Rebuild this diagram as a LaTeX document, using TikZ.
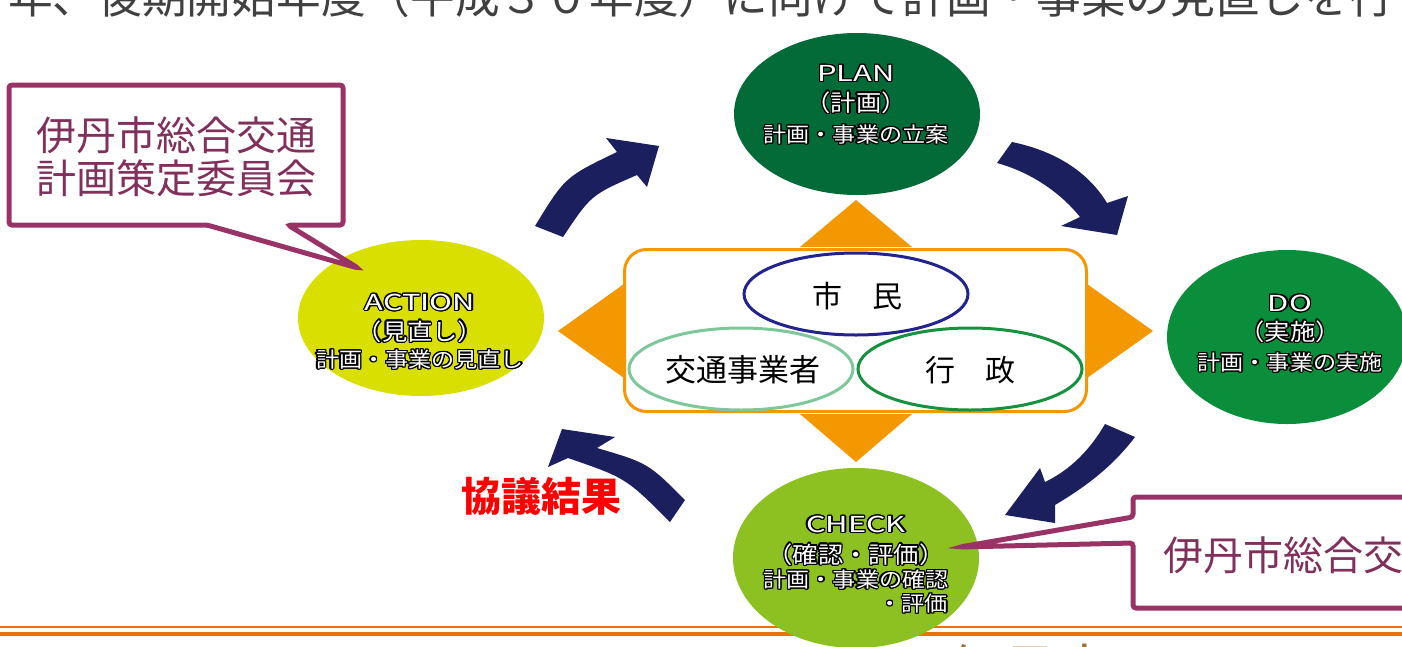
\documentclass[tikz,border=0pt]{standalone}
\usepackage{fontspec}
\setmainfont{Noto Sans CJK JP}
\usepackage{contour}
\contourlength{1.3pt}
\usetikzlibrary{shapes.geometric}
\definecolor{plangreen}{HTML}{036B38}
\definecolor{dogreen}{HTML}{0A8E3C}
\definecolor{actyellow}{HTML}{D9DF00}
\definecolor{chkgreen}{HTML}{8DC021}
\definecolor{navyarrow}{HTML}{1B1F5E}
\definecolor{triorange}{HTML}{F39800}
\definecolor{callborder}{HTML}{993366}
\definecolor{calltext}{HTML}{80305A}
\definecolor{lineorange}{HTML}{E8720C}
\definecolor{citizenblue}{HTML}{23238E}
\definecolor{operatorgreen}{HTML}{7EC79B}
\definecolor{govgreen}{HTML}{16913F}
\definecolor{toptext}{HTML}{404040}
\definecolor{bottext}{HTML}{A0703C}
\newcommand{\pdcaTitle}[1]{\contour{black}{\scalebox{1.4}[1]{#1}}}
\newcommand{\pdcaSub}[1]{\contour{black}{\scalebox{1.1}[1]{#1}}}
\begin{document}
\begin{tikzpicture}[x=1pt,y=-1pt,
  phase/.style={ellipse, inner sep=0pt, minimum width=246pt, minimum height=160pt},
  ttl/.style={inner sep=0pt, text=white, font=\fontsize{22}{24}\selectfont},
  sub/.style={inner sep=0pt, text=white, font=\fontsize{21}{23}\selectfont},
  paren/.style={inner sep=0pt, text=white, font=\fontsize{23}{25}\selectfont},
  member/.style={ellipse, inner sep=0pt, line width=3pt, minimum width=224pt, minimum height=82pt},
  membertext/.style={inner sep=0pt, text=black, font=\fontsize{30}{32}\selectfont},
  callout/.style={draw=callborder, line width=5pt, fill=white, rounded corners=3pt},
  calltxt/.style={inner sep=0pt, text=calltext, font=\fontsize{40}{44}\selectfont},
  bigarrow/.style={fill=navyarrow},
  tri/.style={fill=triorange}
]
\useasboundingbox (0,0) rectangle (1402,646);
\clip (0,0) rectangle (1402,646);
\fill[white] (0,0) rectangle (1402,646);

% partial text lines at the edges
\node[anchor=base west, inner sep=0pt, text=toptext, font=\fontsize{44.7}{48}\selectfont] (topline) at (8,13) {年、後期開始年度（平成３０年度）に向けて計画・事業の見直しを行};
\node[anchor=base west, inner sep=0pt, text=bottext, font=\fontsize{55}{60}\selectfont] (botline) at (947,690) {伊丹市};

% orange rules at the bottom
\draw[lineorange, line width=1.3pt] (0,627) -- (1402,627);
\draw[lineorange, line width=4pt] (0,634) -- (1402,634);

% cycle arrows
\fill[bigarrow] (535,226) .. controls (565,177) .. (617,152) -- (606,138) -- (659,146) -- (647,187) -- (637,175) .. controls (591,195) .. (563,237) -- cycle;
\fill[bigarrow] (1012,142) .. controls (1060,152) and (1090,175) .. (1107,203) -- (1128,196) -- (1117,235) -- (1061,226) -- (1080,217) .. controls (1060,192) and (1030,172) .. (997,163) -- cycle;
\fill[bigarrow] (1135,437) .. controls (1110,470) and (1080,490) .. (1055,505) -- (1055,523) -- (1005,515) -- (1040,468) -- (1045,482) .. controls (1070,470) and (1090,450) .. (1105,424) -- cycle;
\fill[bigarrow] (685,500) .. controls (648,463) .. (597,448) -- (615,437) -- (562,429) -- (548,467) -- (568,458) .. controls (626,478) .. (670,522) -- cycle;

% orange triangles
\fill[tri] (800,247) -- (856,200) -- (912,247) -- cycle;
\fill[tri] (800,414) -- (856,462) -- (912,414) -- cycle;
\fill[tri] (624,284) -- (558,331) -- (624,378) -- cycle;
\fill[tri] (1087,284) -- (1153,331) -- (1087,378) -- cycle;

% centre box
\node[draw=triorange, line width=3pt, rounded corners=22pt, fill=white, minimum width=462pt, minimum height=162pt, inner sep=0pt] (box) at (855.5,330.5) {};
\node[member, draw=citizenblue] (citizen) at (856,294) {};
\node[member, draw=operatorgreen] (operator) at (741,369) {};
\node[member, draw=govgreen] (gov) at (970,369) {};
\node[membertext] (citizentxt) at (857,296) {市　民};
\node[membertext, font=\fontsize{31}{33}\selectfont] (operatortxt) at (743,370) {交通事業者};
\node[membertext] (govtxt) at (970,370) {行　政};

% PDCA ellipses
\node[phase, fill=plangreen, minimum height=162pt] (plan) at (857,114) {};
\node[phase, fill=dogreen, minimum width=240pt, minimum height=174pt] (do) at (1287,337) {};
\node[phase, fill=actyellow, minimum height=156pt] (action) at (421,318) {};
\node[phase, fill=chkgreen, minimum height=180pt] (check) at (856,558) {};

\node[ttl] (planA) at (856,74) {\pdcaTitle{PLAN}};
\node[paren] (planB) at (856,103) {\pdcaSub{（計画）}};
\node[sub] (planC) at (856,135) {\pdcaSub{計画・事業の立案}};

\node[ttl] (doA) at (1290,304) {\pdcaTitle{DO}};
\node[paren] (doB) at (1290,332) {\pdcaSub{（実施）}};
\node[sub] (doC) at (1290,363) {\pdcaSub{計画・事業の実施}};

\node[ttl] (actA) at (420,303) {\pdcaTitle{ACTION}};
\node[paren] (actB) at (420,332) {\pdcaSub{（見直し）}};
\node[sub] (actC) at (420,360) {\pdcaSub{計画・事業の見直し}};

\node[ttl] (chkA) at (856,525) {\pdcaTitle{CHECK}};
\node[paren] (chkB) at (856,555) {\pdcaSub{（確認・評価）}};
\node[sub] (chkC) at (856,580) {\pdcaSub{計画・事業の確認}};
\node[sub, anchor=east] (chkD) at (948,604) {\pdcaSub{・評価}};

% callouts
\draw[callout] (9,85) -- (343,85) -- (343,225) -- (288,225) -- (358,268) -- (207,225) -- (9,225) -- cycle;
\node[calltxt] (leftA) at (176,135) {伊丹市総合交通};
\node[calltxt] (leftB) at (176,178) {計画策定委員会};

\draw[callout] (1133,517) -- (1133,497) -- (1420,497) -- (1420,608) -- (1133,608) -- (1133,543) -- (960,547) -- cycle;
\node[calltxt, anchor=west] (rightA) at (1163,555) {伊丹市総合交通計画策定委員会};

% result label
\node[inner sep=0pt, text=red, font=\fontsize{40}{44}\selectfont\bfseries] (result) at (541,496) {協議結果};
\end{tikzpicture}
\end{document}
